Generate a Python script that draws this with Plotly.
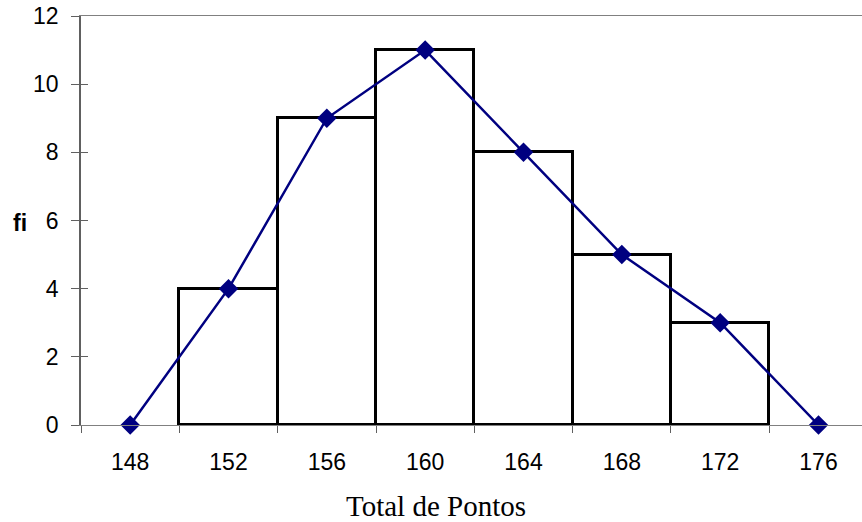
import plotly.graph_objects as go

# Data
class_mids = [152, 156, 160, 164, 168, 172]
class_freq = [4, 9, 11, 8, 5, 3]
poly_x = [148, 152, 156, 160, 164, 168, 172, 176]
poly_y = [0, 4, 9, 11, 8, 5, 3, 0]
x_tick_labels = [148, 152, 156, 160, 164, 168, 172, 176]
y_ticks = [0, 2, 4, 6, 8, 10, 12]
class_width = 4

fig = go.Figure()
fig.add_trace(go.Bar(
    x=class_mids, y=class_freq, width=class_width,
    marker=dict(color="white", line=dict(color="black", width=3)),
    showlegend=False, hoverinfo="x+y"))
fig.add_trace(go.Scatter(
    x=poly_x, y=poly_y, mode="lines+markers",
    line=dict(color="#000080", width=2.5),
    marker=dict(symbol="diamond", size=15, color="#000080"),
    cliponaxis=False, showlegend=False))
# invisible trace for overlay y axis (inner ticks)
fig.add_trace(go.Scatter(x=[poly_x[0]], y=[poly_y[0]], yaxis="y2",
                         mode="markers", marker=dict(opacity=0),
                         showlegend=False, hoverinfo="skip"))

tickfont = dict(family="Liberation Sans, Arial, sans-serif", size=23, color="black")

fig.update_layout(
    width=862, height=522,
    margin=dict(l=81, r=0, t=16, b=97),
    plot_bgcolor="white", paper_bgcolor="white",
    bargap=0,
    xaxis=dict(range=[146, 177.77], tickvals=x_tick_labels,
               ticktext=[str(v) for v in x_tick_labels],
               ticks="", showgrid=False, zeroline=False,
               showline=True, linecolor="#808080", linewidth=1, mirror=True,
               tickfont=tickfont, ticklabelstandoff=16,
               minor=dict(tickmode="linear", tick0=146, dtick=4, ticks="outside",
                          ticklen=7, tickcolor="#606060", tickwidth=1, showgrid=False)),
    yaxis=dict(range=[0, 12], tickvals=y_ticks, ticks="outside", ticklen=8,
               tickcolor="#606060", showgrid=False, zeroline=False,
               showline=True, linecolor="#606060", linewidth=1.5,
               tickfont=tickfont, ticklabelstandoff=8, ticklabeloverflow="allow"),
    yaxis2=dict(range=[0, 12], tickvals=y_ticks, ticks="inside", ticklen=7,
                tickcolor="#606060", overlaying="y", side="left",
                showticklabels=False, showgrid=False, zeroline=False, showline=False),
    annotations=[
        dict(text="Total de Pontos", xref="paper", yref="paper", x=0.4545, y=-0.198,
             xanchor="center", yanchor="middle", showarrow=False,
             font=dict(family="Liberation Serif, Times New Roman, serif", size=29, color="black")),
        dict(text="<b>fi</b>", xref="paper", yref="paper", x=-0.078, y=0.495,
             xanchor="center", yanchor="middle", showarrow=False,
             font=dict(family="Liberation Sans, Arial, sans-serif", size=23, color="black")),
    ],
)

fig.write_html("out.html", config={"displayModeBar": False},
               post_script="document.body.style.margin='0';document.body.style.padding='0';")
